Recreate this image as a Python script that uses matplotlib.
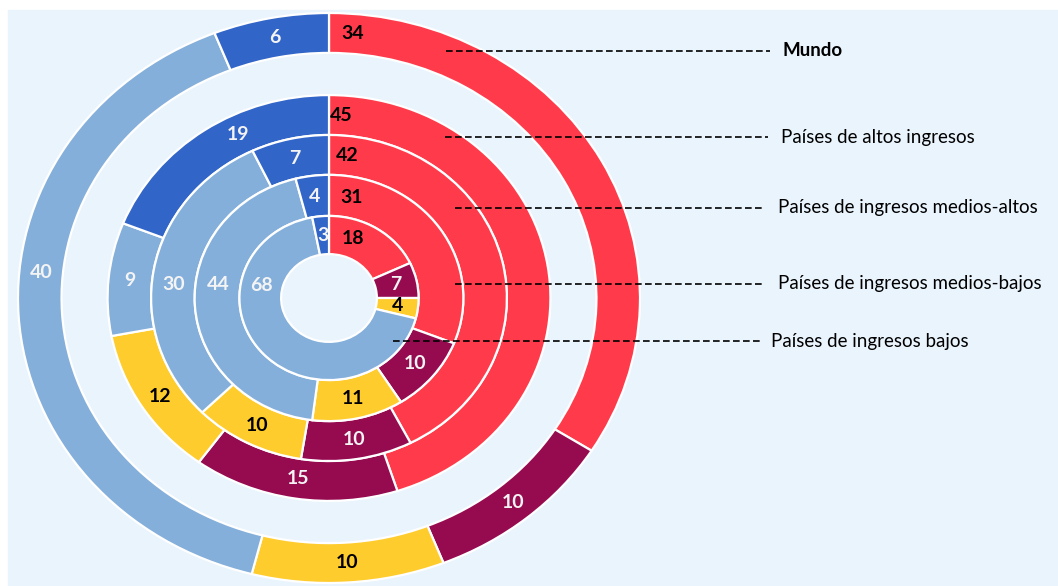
import numpy as np
import matplotlib
matplotlib.use("Agg")
import matplotlib.pyplot as plt
from matplotlib.patches import Rectangle

# ring names, outer to inner
rings = ["Mundo", "Países de altos ingresos", "Países de ingresos medios-altos",
         "Países de ingresos medios-bajos", "Países de ingresos bajos"]

# slice values, clockwise from 12 o'clock: rojo, morado, amarillo, celeste, azul
mundo = [34, 10, 10, 40, 6]
altos = [45, 15, 12, 9, 19]
medios_altos = [42, 10, 10, 30, 7]
medios_bajos = [31, 10, 11, 44, 4]
bajos = [18, 7, 4, 68, 3]
ring_values = [mundo, altos, medios_altos, medios_bajos, bajos]

COLORS = ["#FF3B4B", "#960A50", "#FFCC2D", "#84AFDB", "#3265C8"]
TEXT_COLORS = ["black", "#F4F4F4", "black", "#F4F4F4", "#F4F4F4"]
BG = "#EAF4FD"

# (outer radius, width) in vertical units of the outer ring
RADII = [(1.0, 0.14), (0.712, 0.14), (0.572, 0.14), (0.432, 0.144), (0.288, 0.134)]

# labels that are not at the slice middle: (ring, slice) -> angle in degrees
LABEL_ANGLE = {(0, 0): 85.4, (1, 0): 86.5, (2, 0): 83.3, (3, 0): 78.6, (4, 0): 69.6,
               (0, 3): 174.4, (2, 3): 174.5, (3, 3): 172.3, (4, 3): 168.4, (1, 4): 117.0}

# image geometry (pixels)
W, H = 1058, 586
CX, CY = 329, 298
SX, SY = 311, 285


def px2data(x, y):
    return (x - CX) / SX, (CY - y) / SY


plt.rcParams["font.family"] = ["Lato", "DejaVu Sans"]
fig = plt.figure(figsize=(W / 100, H / 100), dpi=100)
fig.patch.set_facecolor("white")
fig.patches.append(Rectangle((8 / W, 0), (W - 8) / W, (H - 10) / H,
                             transform=fig.transFigure, color=BG, zorder=0))
ax = fig.add_axes([0, 0, 1, 1])
ax.set_zorder(2)

for i, vals in enumerate(ring_values):
    r, w = RADII[i]
    wedges, _ = ax.pie(vals, colors=COLORS, radius=r, startangle=90, counterclock=False,
                       wedgeprops=dict(width=w, edgecolor="white", linewidth=1.6))
    rm = r - w / 2
    for j, wd in enumerate(wedges):
        ang = LABEL_ANGLE.get((i, j), (wd.theta1 + wd.theta2) / 2)
        t = ax.text(rm * np.cos(np.radians(ang)), rm * np.sin(np.radians(ang)), str(vals[j]),
                    ha="center", va="center", fontsize=14, fontweight="bold",
                    color=TEXT_COLORS[j])
        if vals[j] < 4:
            t.set_clip_path(wd)

ax.set_aspect("auto")
x0, y1 = px2data(0, 0)
x1, y0 = px2data(W, H)
ax.set_xlim(x0, x1)
ax.set_ylim(y0, y1)
ax.axis("off")

# leader lines and ring names
leaders = [(446, 770, 51, 782), (445, 768, 137, 781), (455, 763, 208, 778),
           (455, 763, 284, 778), (393, 760, 341, 771)]
for k, (xa, xb, yl, xt) in enumerate(leaders):
    (a, yy), (b, _) = px2data(xa, yl), px2data(xb, yl)
    ax.plot([a, b], [yy, yy], color="black", lw=1.2, ls=(0, (4, 2)))
    tx, ty = px2data(xt, yl)
    ax.text(tx, ty, rings[k], ha="left", va="center", fontsize=13.5,
            fontweight="bold" if k == 0 else "normal", color="black")

fig.savefig("out.png", dpi=100, facecolor=fig.get_facecolor())
